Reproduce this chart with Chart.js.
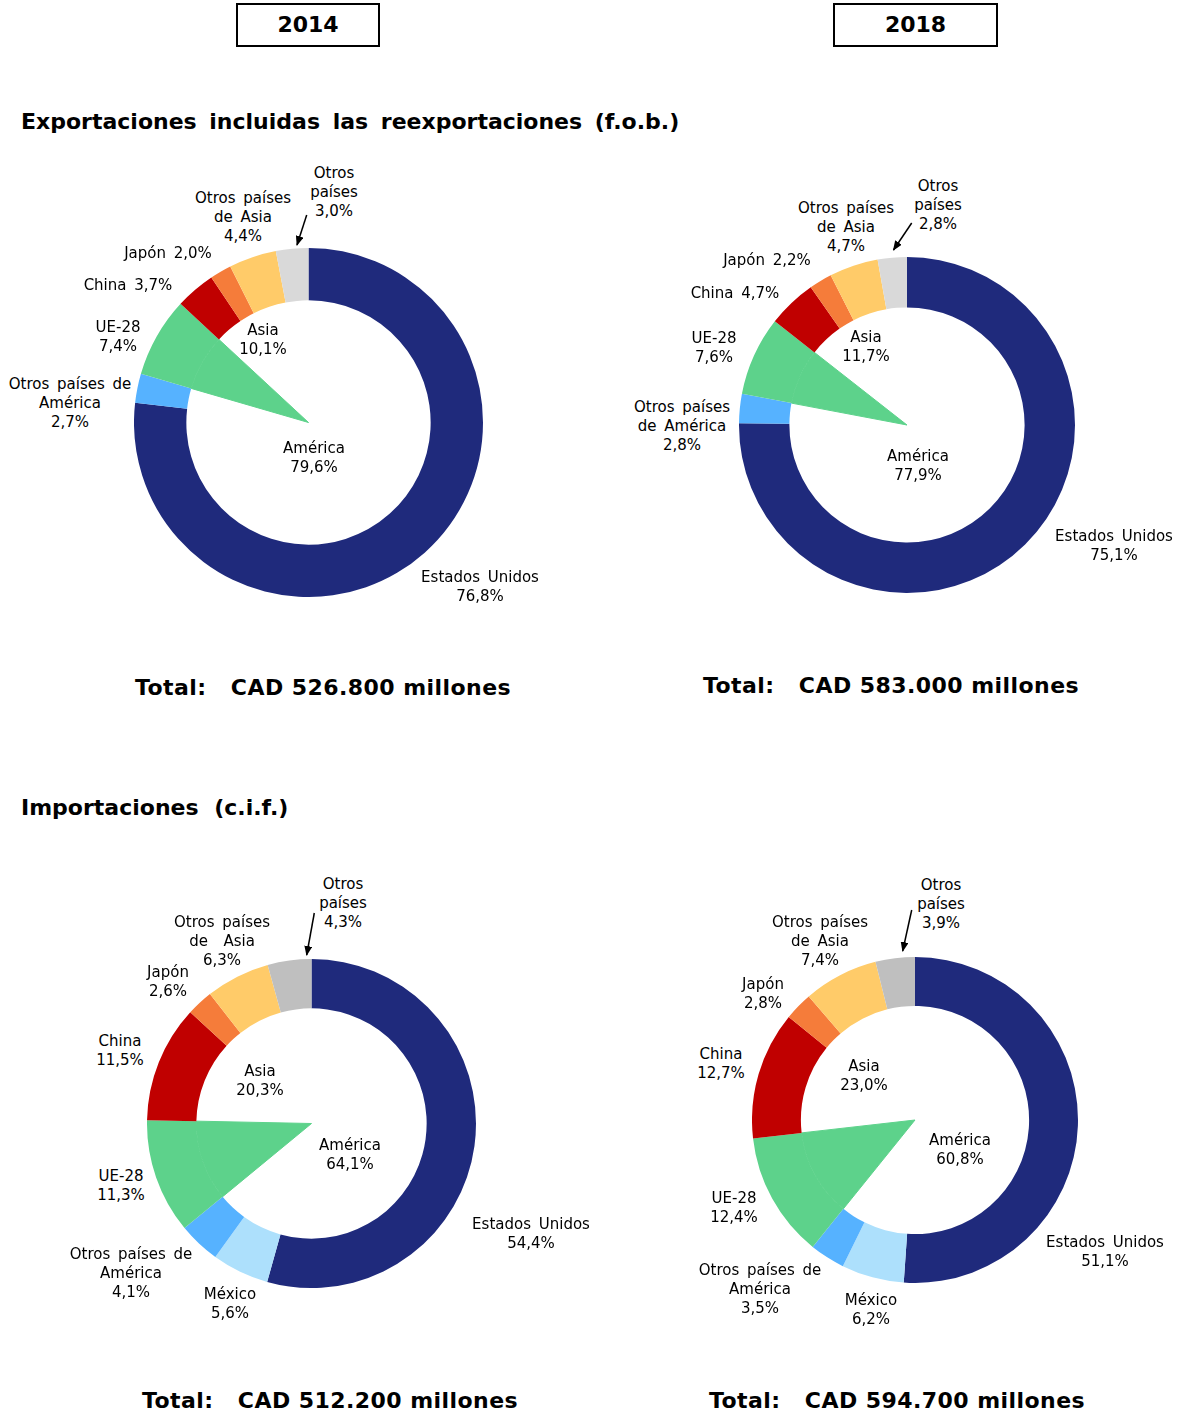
<!DOCTYPE html>
<html>
<head>
<meta charset="utf-8">
<script src="https://cdn.jsdelivr.net/npm/chart.js@4.4.1/dist/chart.umd.min.js"></script>
<style>
  html, body { margin: 0; padding: 0; background: #fff; }
  body { width: 1178px; height: 1414px; position: relative; overflow: hidden;
         font-family: "DejaVu Sans", Verdana, sans-serif; color: #000; }
  .yearbox { position: absolute; top: 3px; height: 40px; border: 2px solid #000;
             font-weight: bold; font-size: 22px; line-height: 40px; text-align: center; box-sizing: content-box; }
  .heading { position: absolute; left: 21px; font-weight: bold; font-size: 22px; line-height: 26px;
             word-spacing: 5px; white-space: nowrap; }
  .total { position: absolute; font-weight: bold; font-size: 22px; line-height: 26px; letter-spacing: 0.45px;
           white-space: pre; transform: translateX(-50%); }
  .lbl { position: absolute; font-size: 15px; line-height: 19px; text-align: center;
         white-space: pre; transform: translateX(-50%); word-spacing: 3px; }
  canvas.pie { position: absolute; }
  svg.arrows { position: absolute; left: 0; top: 0; }
</style>
</head>
<body>
<script>
// ---------------- DATA ----------------
const years = ["2014", "2018"];
const expCategories = ["Estados Unidos", "Otros países de América", "UE-28", "China", "Japón", "Otros países de Asia", "Otros países"];
const exp2014 = [76.8, 2.7, 7.4, 3.7, 2.0, 4.4, 3.0];
const exp2018 = [75.1, 2.8, 7.6, 4.7, 2.2, 4.7, 2.8];
const impCategories = ["Estados Unidos", "México", "Otros países de América", "UE-28", "China", "Japón", "Otros países de Asia", "Otros países"];
const imp2014 = [54.4, 5.6, 4.1, 11.3, 11.5, 2.6, 6.3, 4.3];
const imp2018 = [51.1, 6.2, 3.5, 12.4, 12.7, 2.8, 7.4, 3.9];
const groupNames = ["América", "Asia"];
const expGroups2014 = [79.6, 10.1];
const expGroups2018 = [77.9, 11.7];
const impGroups2014 = [64.1, 20.3];
const impGroups2018 = [60.8, 23.0];
const expTotals = ["526.800", "583.000"];
const impTotals = ["512.200", "594.700"];
const headings = ["Exportaciones incluidas las reexportaciones (f.o.b.)", "Importaciones (c.i.f.)"];

// ---------------- STYLE ----------------
const COLORS = {
  "Estados Unidos": "#1F2A7C",
  "México": "#ADE0FC",
  "Otros países de América": "#56B2FF",
  "UE-28": "#5DD28B",
  "China": "#C00000",
  "Japón": "#F57C3A",
  "Otros países de Asia": "#FFCB69",
  "Otros países": "#D9D9D9"
};
const IMP_OTHER = "#BFBFBF";

function fmt(v) { return v.toFixed(1).replace('.', ',') + '%'; }

function el(tag, cls, css, text) {
  const e = document.createElement(tag);
  if (cls) e.className = cls;
  Object.assign(e.style, css || {});
  if (text !== undefined) e.textContent = text;
  document.body.appendChild(e);
  return e;
}

// year boxes
el('div', 'yearbox', { left: '236px', width: '140px' }, years[0]);
el('div', 'yearbox', { left: '833px', width: '161px' }, years[1]);
// headings
el('div', 'heading', { top: '109px' }, headings[0]);
el('div', 'heading', { top: '795px', wordSpacing: '8px' }, headings[1]);
// totals
el('div', 'total', { left: '323px', top: '675px' }, 'Total:   CAD ' + expTotals[0] + ' millones');
el('div', 'total', { left: '891px', top: '673px' }, 'Total:   CAD ' + expTotals[1] + ' millones');
el('div', 'total', { left: '330px', top: '1388px' }, 'Total:   CAD ' + impTotals[0] + ' millones');
el('div', 'total', { left: '897px', top: '1388px' }, 'Total:   CAD ' + impTotals[1] + ' millones');

// ---------------- CHARTS ----------------
function makeChart(box, cats, vals, otherColor) {
  const c = document.createElement('canvas');
  c.className = 'pie';
  c.width = box.size; c.height = box.size;
  c.style.left = box.left + 'px'; c.style.top = box.top + 'px';
  c.style.width = box.size + 'px'; c.style.height = box.size + 'px';
  document.body.appendChild(c);
  const col = cats.map(k => (k === "Otros países" && otherColor) ? otherColor : COLORS[k]);
  const inner = cats.map(k => k === "UE-28" ? COLORS[k] : 'rgba(0,0,0,0)');
  new Chart(c, {
    type: 'doughnut',
    data: {
      labels: cats,
      datasets: [
        { data: vals, backgroundColor: col, borderWidth: 0, hoverOffset: 0, weight: 0.3 },
        { data: vals, backgroundColor: inner, borderColor: inner,
          borderWidth: cats.map(k => k === "UE-28" ? 1 : 0), hoverOffset: 0, weight: 0.7 }
      ]
    },
    options: {
      responsive: false, animation: false, cutout: 0, radius: '100%',
      layout: { padding: 0 }, events: [],
      plugins: { legend: { display: false }, tooltip: { enabled: false } }
    }
  });
}

makeChart({ left: 134, top: 248, size: 349 }, expCategories, exp2014);
makeChart({ left: 739, top: 257, size: 336 }, expCategories, exp2018);
makeChart({ left: 147, top: 959, size: 329 }, impCategories, imp2014, IMP_OTHER);
makeChart({ left: 752, top: 957, size: 326 }, impCategories, imp2018, IMP_OTHER);

// ---------------- LABELS ----------------
const LH = 19;
function lbl(text, cx, cy) {
  el('div', 'lbl', { left: cx + 'px', top: (cy - LH / 2) + 'px' }, text);
}
// Exports 2014
lbl("Otros\npaíses\n" + fmt(exp2014[6]), 334, 173);
lbl("Otros países\nde Asia\n" + fmt(exp2014[5]), 243, 198);
lbl("Japón " + fmt(exp2014[4]), 168, 253);
lbl("China " + fmt(exp2014[3]), 128, 285);
lbl("UE-28\n" + fmt(exp2014[2]), 118, 327);
lbl("Otros países de\nAmérica\n" + fmt(exp2014[1]), 70, 384);
lbl("Estados Unidos\n" + fmt(exp2014[0]), 480, 577);
lbl(groupNames[1] + "\n" + fmt(expGroups2014[1]), 263, 330);
lbl(groupNames[0] + "\n" + fmt(expGroups2014[0]), 314, 448);
// Exports 2018
lbl("Otros\npaíses\n" + fmt(exp2018[6]), 938, 186);
lbl("Otros países\nde Asia\n" + fmt(exp2018[5]), 846, 208);
lbl("Japón " + fmt(exp2018[4]), 767, 260);
lbl("China " + fmt(exp2018[3]), 735, 293);
lbl("UE-28\n" + fmt(exp2018[2]), 714, 338);
lbl("Otros países\nde América\n" + fmt(exp2018[1]), 682, 407);
lbl("Estados Unidos\n" + fmt(exp2018[0]), 1114, 536);
lbl(groupNames[1] + "\n" + fmt(expGroups2018[1]), 866, 337);
lbl(groupNames[0] + "\n" + fmt(expGroups2018[0]), 918, 456);
// Imports 2014
lbl("Otros\npaíses\n" + fmt(imp2014[7]), 343, 884);
lbl("Otros países\nde  Asia\n" + fmt(imp2014[6]), 222, 922);
lbl("Japón\n" + fmt(imp2014[5]), 168, 972);
lbl("China\n" + fmt(imp2014[4]), 120, 1041);
lbl("UE-28\n" + fmt(imp2014[3]), 121, 1176);
lbl("Otros países de\nAmérica\n" + fmt(imp2014[2]), 131, 1254);
lbl("México\n" + fmt(imp2014[1]), 230, 1294);
lbl("Estados Unidos\n" + fmt(imp2014[0]), 531, 1224);
lbl(groupNames[1] + "\n" + fmt(impGroups2014[1]), 260, 1071);
lbl(groupNames[0] + "\n" + fmt(impGroups2014[0]), 350, 1145);
// Imports 2018
lbl("Otros\npaíses\n" + fmt(imp2018[7]), 941, 885);
lbl("Otros países\nde Asia\n" + fmt(imp2018[6]), 820, 922);
lbl("Japón\n" + fmt(imp2018[5]), 763, 984);
lbl("China\n" + fmt(imp2018[4]), 721, 1054);
lbl("UE-28\n" + fmt(imp2018[3]), 734, 1198);
lbl("Otros países de\nAmérica\n" + fmt(imp2018[2]), 760, 1270);
lbl("México\n" + fmt(imp2018[1]), 871, 1300);
lbl("Estados Unidos\n" + fmt(imp2018[0]), 1105, 1242);
lbl(groupNames[1] + "\n" + fmt(impGroups2018[1]), 864, 1066);
lbl(groupNames[0] + "\n" + fmt(impGroups2018[0]), 960, 1140);

// ---------------- ARROWS ----------------
const NS = "http://www.w3.org/2000/svg";
const svg = document.createElementNS(NS, 'svg');
svg.setAttribute('class', 'arrows');
svg.setAttribute('width', 1178); svg.setAttribute('height', 1414);
svg.innerHTML = '<defs><marker id="ah" markerWidth="10" markerHeight="8" refX="9" refY="4" orient="auto" markerUnits="userSpaceOnUse"><path d="M0,0 L10,4 L0,8 z" fill="#000"/></marker></defs>';
[[306.7, 215, 297, 245], [911.7, 223, 893.5, 250], [314.3, 913, 306.7, 955], [911.7, 910, 902.7, 951]].forEach(a => {
  const l = document.createElementNS(NS, 'line');
  l.setAttribute('x1', a[0]); l.setAttribute('y1', a[1]);
  l.setAttribute('x2', a[2]); l.setAttribute('y2', a[3]);
  l.setAttribute('stroke', '#000'); l.setAttribute('stroke-width', '1.5');
  l.setAttribute('marker-end', 'url(#ah)');
  svg.appendChild(l);
});
document.body.appendChild(svg);
</script>
</body>
</html>
